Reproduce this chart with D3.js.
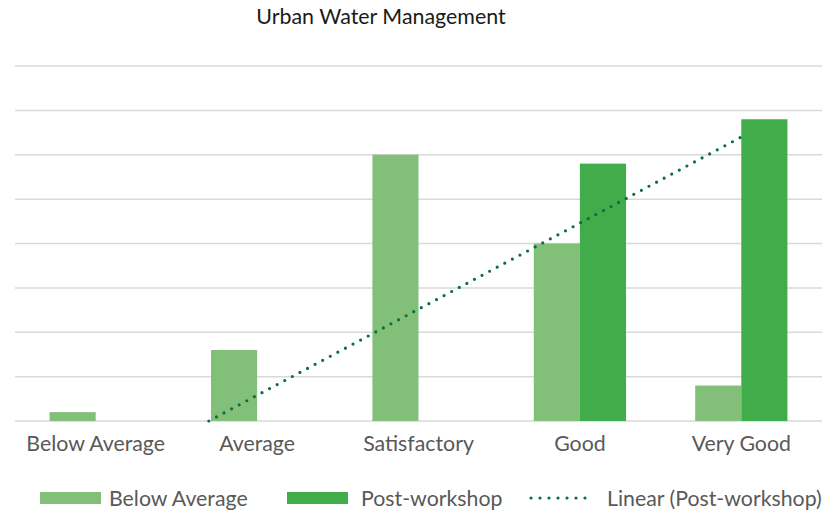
<!DOCTYPE html>
<html lang="en">

<head>
    <meta charset="UTF-8">
    <title>Urban Water Management</title>
    <script src="https://cdn.jsdelivr.net/npm/d3@7"></script>
    <style>
        body { margin: 0; background: #fff; }
        text { font-family: Lato, "Open Sans", sans-serif; }
    </style>
</head>

<body>
    <div id="container"></div>

    <script>
        const width = 828;
        const height = 515;
        const margin = { top: 66, left: 15, right: 6, bottom: 94 };

        // data
        const categories = ['Below Average', 'Average', 'Satisfactory', 'Good', 'Very Good'];
        const beforeValues = [1, 8, 30, 20, 4];
        const postValues = [0, 0, 0, 29, 34];
        const yTicks = [0, 5, 10, 15, 20, 25, 30, 35, 40];
        const seriesNames = ['Below Average', 'Post-workshop'];
        const trendName = 'Linear (Post-workshop)';

        const colors = ['#82c07a', '#41ad4a'];
        const trendColor = '#0a6e42';

        const svg = d3.select('#container').append('svg')
            .attr('width', width)
            .attr('height', height);

        const x = d3.scaleBand().domain(categories)
            .range([margin.left, width - margin.right]).padding(0);
        // gap width 150%: two bars fill 2 / 3.5 of each band
        const inner = d3.scaleBand().domain(seriesNames)
            .range([x.bandwidth() * 0.75 / 3.5, x.bandwidth() * (1 - 0.75 / 3.5)]);
        const y = d3.scaleLinear().domain([0, 40]).range([height - margin.bottom, margin.top]);

        // title
        svg.append('text')
            .attr('x', 381).attr('y', 24)
            .attr('text-anchor', 'middle')
            .attr('font-size', 21.4)
            .attr('fill', '#1a1a1a')
            .text('Urban Water Management');

        // gridlines
        svg.append('g').selectAll('line').data(yTicks).join('line')
            .attr('x1', margin.left).attr('x2', width - margin.right)
            .attr('y1', d => y(d)).attr('y2', d => y(d))
            .attr('stroke', '#d9d9d9').attr('stroke-width', 1.5);

        // bars
        const rows = categories.map((c, i) => ({ cat: c, vals: [beforeValues[i], postValues[i]] }));
        const groups = svg.append('g').selectAll('g').data(rows).join('g')
            .attr('transform', d => `translate(${x(d.cat)},0)`);
        groups.selectAll('rect')
            .data(d => d.vals.map((v, k) => ({ name: seriesNames[k], v, k })))
            .join('rect')
            .attr('x', d => inner(d.name))
            .attr('width', inner.bandwidth())
            .attr('y', d => y(d.v))
            .attr('height', d => y(0) - y(d.v))
            .attr('fill', d => colors[d.k]);

        // linear trendline for post-workshop (least squares, x = 1..n)
        const xs = postValues.map((d, i) => i + 1);
        const mx = d3.mean(xs), my = d3.mean(postValues);
        const slope = d3.sum(xs, (v, i) => (v - mx) * (postValues[i] - my)) / d3.sum(xs, v => (v - mx) ** 2);
        const icpt = my - slope * mx;
        const xPos = t => x(categories[0]) + x.bandwidth() / 2 + (t - 1) * x.step();
        const t0 = Math.max(1, -icpt / slope);
        const tn = categories.length;
        svg.append('line')
            .attr('x1', xPos(t0)).attr('y1', y(icpt + slope * t0))
            .attr('x2', xPos(tn)).attr('y2', y(icpt + slope * tn))
            .attr('stroke', trendColor)
            .attr('stroke-width', 3.2)
            .attr('stroke-linecap', 'round')
            .attr('stroke-dasharray', '0 8.6');

        // x axis labels
        svg.append('g').selectAll('text').data(categories).join('text')
            .attr('x', d => x(d) + x.bandwidth() / 2)
            .attr('y', 451)
            .attr('text-anchor', 'middle')
            .attr('font-size', 21.3)
            .attr('fill', '#595959')
            .text(d => d);

        // legend
        const legend = svg.append('g');
        const items = [
            { name: seriesNames[0], x: 40, tx: 109, type: 'rect', color: colors[0] },
            { name: seriesNames[1], x: 287, tx: 361, type: 'rect', color: colors[1] },
            { name: trendName, x: 531, tx: 607, type: 'line', color: trendColor }
        ];
        items.forEach(it => {
            if (it.type === 'rect') {
                legend.append('rect')
                    .attr('x', it.x).attr('y', 492)
                    .attr('width', 61).attr('height', 12)
                    .attr('fill', it.color);
            } else {
                legend.append('line')
                    .attr('x1', it.x).attr('x2', it.x + 63)
                    .attr('y1', 498).attr('y2', 498)
                    .attr('stroke', it.color)
                    .attr('stroke-width', 3.2)
                    .attr('stroke-linecap', 'round')
                    .attr('stroke-dasharray', '0 9');
            }
            legend.append('text')
                .attr('x', it.tx)
                .attr('y', 506)
                .attr('font-size', 21.3)
                .attr('fill', '#595959')
                .text(it.name);
        });
    </script>
</body>

</html>
